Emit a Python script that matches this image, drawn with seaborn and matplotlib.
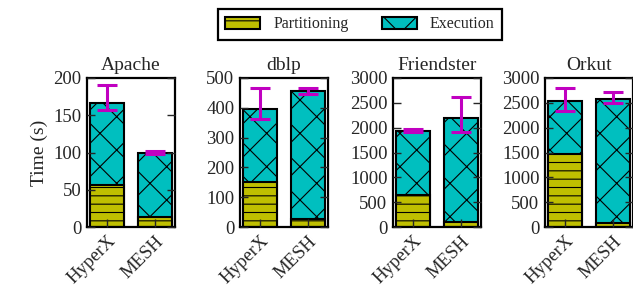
import matplotlib
matplotlib.use("Agg")
import matplotlib.pyplot as plt
import matplotlib.patches as mpatches
import seaborn as sns
import pandas as pd
import numpy as np

datasets = ["Apache", "dblp", "Friendster", "Orkut"]
systems = ["HyperX", "MESH"]
partitioning = [[57, 13], [150, 28], [645, 95], [1475, 90]]
total = [[166, 100], [395, 458], [1940, 2200], [2540, 2585]]
err_low = [[157, 98.5], [362, 447], [1915, 1915], [2345, 2505]]
err_high = [[191, 102.5], [468, 466], [1975, 2620], [2805, 2725]]
ymax = [200, 500, 3000, 3000]
yticks = [[0, 50, 100, 150, 200], [0, 100, 200, 300, 400, 500],
          [0, 500, 1000, 1500, 2000, 2500, 3000], [0, 500, 1000, 1500, 2000, 2500, 3000]]

part_color = "#bfbf00"
exec_color = "#00bfbf"
err_color = "#c000c0"

sns.set_style("ticks")
plt.rcParams["font.family"] = ["Liberation Serif", "DejaVu Serif"]
plt.rcParams["hatch.linewidth"] = 0.8
plt.rcParams["hatch.color"] = "black"

fig = plt.figure(figsize=(6.33, 2.97), dpi=100)
lefts = [87, 240, 393, 545]
W, H = 633, 297
ax_w = 88
ax_top, ax_bot = 78, 227

for i, name in enumerate(datasets):
    ax = fig.add_axes([lefts[i] / W, (H - ax_bot) / H, ax_w / W, (ax_bot - ax_top) / H])
    df = pd.DataFrame({"system": systems, "total": total[i], "part": partitioning[i]})
    sns.barplot(data=df, x="system", y="total", color=exec_color, saturation=1,
                hatch="x", edgecolor="black", linewidth=1.5, width=0.72, ax=ax, zorder=1)
    sns.barplot(data=df, x="system", y="part", color=part_color, saturation=1,
                hatch="--", edgecolor="black", linewidth=1.5, width=0.72, ax=ax, zorder=1.5)
    lo = np.array(err_low[i], float)
    hi = np.array(err_high[i], float)
    mid = (lo + hi) / 2
    ax.errorbar([0, 1], mid, yerr=[mid - lo, hi - mid], fmt="none", ecolor=err_color,
                elinewidth=2.2, capsize=7, capthick=2.2, zorder=5)
    ax.set_axisbelow(False)
    ax.set_xlim(-0.43, 1.43)
    ax.set_ylim(0, ymax[i])
    ax.set_yticks(yticks[i])
    ax.set_xlabel("")
    ax.set_ylabel("")
    ax.set_title(name, fontsize=14, pad=6)
    for sp in ax.spines.values():
        sp.set_visible(True)
        sp.set_linewidth(1.6)
        sp.set_color("black")
    ax.tick_params(axis="y", direction="in", length=6, width=1, left=True, right=True,
                   labelsize=13.5, pad=4)
    ax.tick_params(axis="x", direction="in", length=6, width=1, bottom=True, top=False,
                   labelsize=13.5, pad=4)
    for lbl in ax.get_xticklabels():
        lbl.set_rotation(45)
        lbl.set_ha("right")
        lbl.set_va("top")
        lbl.set_rotation_mode("anchor")
    if i == 0:
        ax.set_ylabel("Time (s)", fontsize=14, labelpad=4)

handles = [mpatches.Patch(facecolor=part_color, edgecolor="black", hatch="--", linewidth=1.5),
           mpatches.Patch(facecolor=exec_color, edgecolor="black", hatch="x", linewidth=1.5)]
leg = fig.legend(handles, ["Partitioning", "Execution"], loc="center",
                 bbox_to_anchor=(360 / W, 1 - 24.5 / H), ncol=2, frameon=True,
                 fancybox=False, edgecolor="black", fontsize=11.5, handlelength=2.2,
                 handleheight=0.7, handletextpad=0.8, columnspacing=2.1,
                 borderpad=0.45, framealpha=1)
leg.get_frame().set_linewidth(1.6)

fig.savefig("out.png", dpi=100)
